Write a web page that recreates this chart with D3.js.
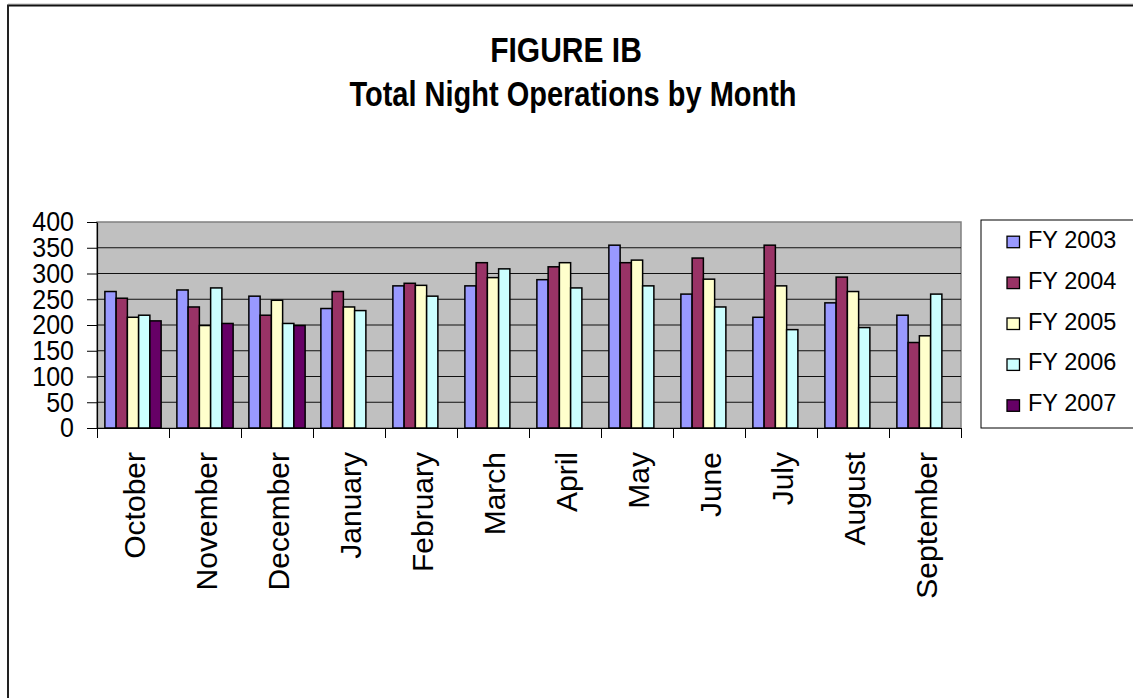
<!DOCTYPE html>
<html>
<head>
<meta charset="utf-8">
<script src="https://cdn.jsdelivr.net/npm/d3@7"></script>
<style>
  body { margin: 0; background: #fff; }
  text { font-family: "Liberation Sans", Arial, sans-serif; }
</style>
</head>
<body>
<div id="chart"></div>
<script>
// chart data
var months = ["October", "November", "December", "January", "February", "March",
    "April", "May", "June", "July", "August", "September"];
var seriesNames = ["FY 2003", "FY 2004", "FY 2005", "FY 2006", "FY 2007"];
var fy2003 = [265, 268, 256, 232, 276, 276, 288, 355, 260, 215, 243, 219];
var fy2004 = [252, 235, 219, 265, 281, 321, 313, 321, 330, 355, 293, 166];
var fy2005 = [215, 199, 248, 235, 277, 292, 321, 326, 289, 276, 265, 179];
var fy2006 = [219, 272, 203, 228, 256, 309, 272, 276, 235, 191, 195, 260];
var fy2007 = [208, 203, 199, null, null, null, null, null, null, null, null, null];
var yTicks = [0, 50, 100, 150, 200, 250, 300, 350, 400];

var seriesValues = [fy2003, fy2004, fy2005, fy2006, fy2007];
var colors = ["#9999FF", "#993366", "#FFFFCC", "#CCFFFF", "#660066"];

var svgWidth = 1133;
var svgHeight = 698;

var plot = { left: 97, right: 961, top: 222, bottom: 428 };

var svg = d3.select("#chart")
    .append("svg")
    .attr("width", svgWidth)
    .attr("height", svgHeight);

// outer frame (only top and left edges show)
svg.append("line")
    .attr("x1", 8).attr("x2", svgWidth).attr("y1", 4).attr("y2", 4)
    .attr("stroke", "#bbb").attr("stroke-width", 1);
svg.append("line")
    .attr("x1", 7).attr("x2", svgWidth).attr("y1", 5.5).attr("y2", 5.5)
    .attr("stroke", "#111").attr("stroke-width", 2);
svg.append("line")
    .attr("x1", 8).attr("x2", 8).attr("y1", 5).attr("y2", svgHeight)
    .attr("stroke", "#222").attr("stroke-width", 2);

// titles
svg.append("text")
    .attr("transform", "translate(566, 62) scale(1, 1.15)")
    .attr("text-anchor", "middle")
    .style("font-size", "30px")
    .style("font-weight", "bold")
    .text("FIGURE IB");
svg.append("text")
    .attr("transform", "translate(573, 106) scale(1, 1.18)")
    .attr("text-anchor", "middle")
    .style("font-size", "29px")
    .style("font-weight", "bold")
    .text("Total Night Operations by Month");

// scales
var x0 = d3.scaleBand()
    .domain(months)
    .range([plot.left, plot.right])
    .paddingInner(0)
    .paddingOuter(0);

var x1 = d3.scaleBand()
    .domain(seriesNames)
    .range([0, x0.bandwidth()])
    .paddingInner(0)
    .paddingOuter(0.7);

var y = d3.scaleLinear()
    .domain([0, 400])
    .range([plot.bottom, plot.top]);

// plot background
svg.append("rect")
    .attr("x", plot.left)
    .attr("y", plot.top)
    .attr("width", plot.right - plot.left)
    .attr("height", plot.bottom - plot.top)
    .attr("fill", "#C0C0C0")
    .attr("stroke", "#808080")
    .attr("stroke-width", 1.5);

// gridlines
svg.append("g")
    .selectAll("line")
    .data(yTicks.filter(d => d > 0 && d < 400))
    .enter()
    .append("line")
    .attr("x1", plot.left)
    .attr("x2", plot.right)
    .attr("y1", d => y(d))
    .attr("y2", d => y(d))
    .attr("stroke", "#111")
    .attr("stroke-width", 1);

// bars
var rows = [];
months.forEach(function(m, i) {
    seriesNames.forEach(function(s, j) {
        if (seriesValues[j][i] != null) {
            rows.push({ month: m, series: s, value: seriesValues[j][i], idx: j });
        }
    });
});

svg.append("g")
    .selectAll("rect")
    .data(rows)
    .enter()
    .append("rect")
    .attr("x", d => x0(d.month) + x1(d.series))
    .attr("y", d => y(d.value))
    .attr("width", x1.bandwidth())
    .attr("height", d => y(0) - y(d.value))
    .attr("fill", d => colors[d.idx])
    .attr("stroke", "#000")
    .attr("stroke-width", 1.5);

// y axis
var leftAxis = d3.axisLeft(y)
    .tickValues(yTicks)
    .tickSize(10)
    .tickSizeOuter(0)
    .tickPadding(13);

var yAxis = svg.append("g")
    .attr("transform", `translate(${plot.left}, 0)`)
    .call(leftAxis);
yAxis.select(".domain").attr("stroke", "#000").attr("stroke-width", 1.2);
yAxis.selectAll(".tick line").attr("stroke", "#000");
yAxis.selectAll("text")
    .attr("fill", "#000")
    .attr("transform", "scale(1, 1.12)")
    .style("font-family", "'Liberation Sans', Arial, sans-serif")
    .style("font-size", "25px");

// x axis: ticks between the month groups
var xb = d3.scaleLinear().domain([0, months.length]).range([plot.left, plot.right]);
var bottomAxis = d3.axisBottom(xb)
    .tickValues(d3.range(0, months.length + 1))
    .tickSize(10)
    .tickSizeOuter(0)
    .tickFormat("");

var xAxis = svg.append("g")
    .attr("transform", `translate(0, ${plot.bottom})`)
    .call(bottomAxis);
xAxis.select(".domain").attr("stroke", "#000").attr("stroke-width", 1.2);
xAxis.selectAll(".tick line").attr("stroke", "#000");

// month labels, rotated
svg.append("g")
    .selectAll("text")
    .data(months)
    .enter()
    .append("text")
    .attr("transform", d => `translate(${x0(d) + x0.bandwidth() / 2 + 1}, 452) rotate(-90)`)
    .attr("dy", "0.36em")
    .attr("text-anchor", "end")
    .style("font-size", "30px")
    .text(d => d);

// legend
var legend = svg.append("g");
legend.append("rect")
    .attr("x", 981)
    .attr("y", 220)
    .attr("width", 160)
    .attr("height", 208)
    .attr("fill", "#fff")
    .attr("stroke", "#000")
    .attr("stroke-width", 1);

var legendItems = legend.selectAll(".item")
    .data(seriesNames)
    .enter()
    .append("g")
    .attr("class", "item")
    .attr("transform", (d, i) => `translate(0, ${247.7 + i * 40.9})`);

legendItems.append("rect")
    .attr("x", 1007)
    .attr("y", -11.5)
    .attr("width", 12.5)
    .attr("height", 11.5)
    .attr("fill", (d, i) => colors[i])
    .attr("stroke", "#000")
    .attr("stroke-width", 1.3);

legendItems.append("text")
    .attr("x", 1028)
    .attr("y", 0)
    .style("font-size", "23.5px")
    .text(d => d);
</script>
</body>
</html>
